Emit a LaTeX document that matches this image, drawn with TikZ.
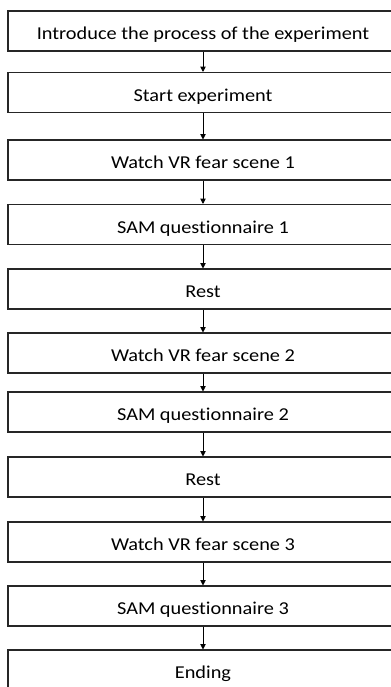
\documentclass[tikz,border=0pt]{standalone}
\usepackage{fontspec}
\setmainfont{Carlito}[FakeStretch=1.12, Ligatures=NoCommon]
\usetikzlibrary{arrows.meta}

\begin{document}
\begin{tikzpicture}[x=0.75pt, y=-0.75pt, font=\fontsize{13.6}{16}\selectfont,
  stepbox/.style={draw=black!85, line width=0.8pt, minimum width=292.5pt, minimum height=30pt,
    inner sep=0pt, text height=13.3pt, text depth=0pt},
  flow/.style={-{Triangle[length=4pt, width=4pt]}, line width=0.6pt}]
  \useasboundingbox (0,0) rectangle (391,687);

  \node[stepbox] (intro) at (203,31) {Introduce the process of the experiment};
  \node[stepbox] (start) at (203,92.5) {Start experiment};
  \node[stepbox] (scene1) at (203,160) {Watch VR fear scene 1};
  \node[stepbox] (sam1) at (203,224.5) {SAM questionnaire 1};
  \node[stepbox] (rest1) at (203,289) {Rest};
  \node[stepbox] (scene2) at (203,353) {Watch VR fear scene 2};
  \node[stepbox] (sam2) at (203,412) {SAM questionnaire 2};
  \node[stepbox] (rest2) at (203,477) {Rest};
  \node[stepbox] (scene3) at (203,542) {Watch VR fear scene 3};
  \node[stepbox] (sam3) at (203,606) {SAM questionnaire 3};
  \node[stepbox] (ending) at (203,670) {Ending};

  \draw[flow] (intro) -- (start);
  \draw[flow] (start) -- (scene1);
  \draw[flow] (scene1) -- (sam1);
  \draw[flow] (sam1) -- (rest1);
  \draw[flow] (rest1) -- (scene2);
  \draw[flow] (scene2) -- (sam2);
  \draw[flow] (sam2) -- (rest2);
  \draw[flow] (rest2) -- (scene3);
  \draw[flow] (scene3) -- (sam3);
  \draw[flow] (sam3) -- (ending);
\end{tikzpicture}
\end{document}
